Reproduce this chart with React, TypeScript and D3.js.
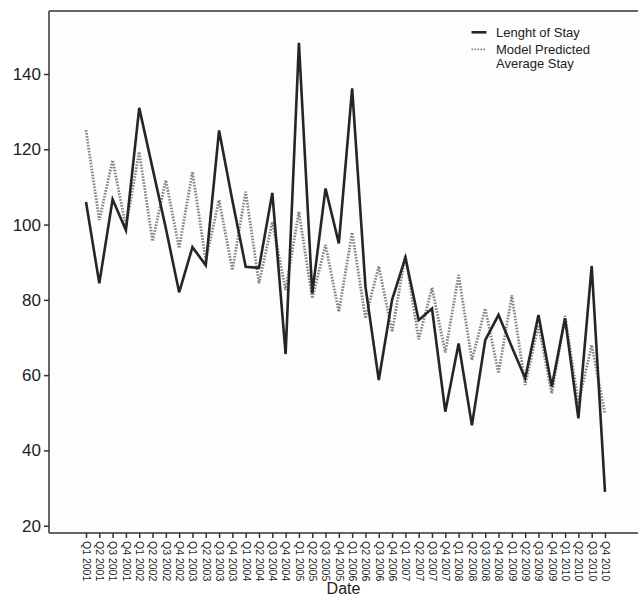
import React, { useEffect, useRef } from "react";
import * as d3 from "d3";

const quarters: string[] = [];
const years = [2001, 2002, 2003, 2004, 2005, 2006, 2007, 2008, 2009, 2010];
years.forEach((y) => ["Q1", "Q2", "Q3", "Q4"].forEach((q) => quarters.push(`${q} ${y}`)));

const lengthOfStay = [
  106, 84.4, 106.7, 98.5, 131, 115, 99, 82, 94, 89.2,
  125, 106.4, 88.8, 88.5, 108.4, 65.6, 148.3, 81.7, 109.6, 95,
  136.2, 83.5, 58.7, 80, 91.2, 74.6, 77.7, 50.3, 68.4, 46.7,
  69.3, 76, 67.5, 59.2, 76, 57, 75.1, 48.5, 89, 29,
];

const predicted = [
  125.1, 101.2, 117.1, 99.4, 119.3, 95.6, 111.8, 93.7, 114, 90.5,
  106.5, 87.9, 108.7, 84.4, 100.7, 82.6, 103.4, 80.4, 94.6, 76.8,
  97.9, 75.1, 88.9, 71.5, 91.9, 69.5, 83.2, 66, 86.6, 64,
  77.7, 60.5, 81.2, 57.4, 73.3, 55.1, 75.7, 52.5, 68, 49.7,
];

const yTicks = [20, 40, 60, 80, 100, 120, 140];
const seriesNames = ["Lenght of Stay", "Model Predicted", "Average Stay"];

const W = 638;
const H = 599;
const FONT = "'Liberation Sans', Arial, Helvetica, sans-serif";

export default function App() {
  const xAxisRef = useRef<SVGGElement>(null);
  const yAxisRef = useRef<SVGGElement>(null);

  const plotLeft = 49;
  const plotRight = 638;
  const plotTop = 11;
  const plotBottom = 533;

  const y = d3.scaleLinear().domain([18.06, 156.74]).range([plotBottom, plotTop]);
  const x = d3.scalePoint<string>().domain(quarters).range([86, 605]).padding(0);

  const lineGen = d3
    .line<number>()
    .x((_, i) => x(quarters[i]) as number)
    .y((d) => y(d));

  useEffect(() => {
    if (yAxisRef.current) {
      const g = d3.select(yAxisRef.current);
      g.call(d3.axisLeft(y).tickValues(yTicks).tickSize(5).tickPadding(3) as any);
      g.select(".domain").remove();
      g.selectAll(".tick line").attr("stroke", "#333").attr("stroke-width", 1.5);
      g.selectAll(".tick text")
        .attr("fill", "#222")
        .style("font-family", FONT)
        .style("font-size", "17px");
    }
    if (xAxisRef.current) {
      const g = d3.select(xAxisRef.current);
      g.call(d3.axisBottom(x).tickSize(5) as any);
      g.select(".domain").remove();
      g.selectAll(".tick line").attr("stroke", "#333").attr("stroke-width", 1.5);
      g.selectAll(".tick text")
        .attr("fill", "#222")
        .attr("transform", "rotate(90)")
        .attr("x", 8)
        .attr("y", 0)
        .attr("dy", "0.35em")
        .attr("text-anchor", "start")
        .style("font-family", FONT)
        .style("font-size", "10.5px");
    }
  }, []);

  return (
    <svg
      width={W}
      height={H}
      style={{ position: "absolute", left: 0, top: 0, background: "#fff" }}
    >
      <rect x={plotLeft} y={plotTop} width={plotRight - plotLeft} height={plotBottom - plotTop} fill="#fdfdfd" />
      <path
        d={lineGen(predicted) || ""}
        fill="none"
        stroke="#858585"
        strokeWidth={2.8}
        strokeDasharray="1.6,1.4"
      />
      <path
        d={lineGen(lengthOfStay) || ""}
        fill="none"
        stroke="#252525"
        strokeWidth={2.6}
        strokeLinejoin="miter"
      />
      <line x1={plotLeft} x2={plotRight} y1={plotTop} y2={plotTop} stroke="#333" strokeWidth={1.5} />
      <line x1={plotLeft} x2={plotLeft} y1={plotTop} y2={plotBottom} stroke="#333" strokeWidth={1.5} />
      <line x1={plotLeft} x2={plotRight} y1={plotBottom} y2={plotBottom} stroke="#333" strokeWidth={1.5} />
      <g ref={yAxisRef} transform={`translate(${plotLeft},0)`} />
      <g ref={xAxisRef} transform={`translate(0,${plotBottom})`} />
      <text
        x={(plotLeft + plotRight) / 2}
        y={594}
        textAnchor="middle"
        fill="#222"
        style={{ fontFamily: FONT, fontSize: "16px" }}
      >
        Date
      </text>
      <g style={{ fontFamily: FONT, fontSize: "13px" }} fill="#222">
        <line x1={471.5} x2={486.5} y1={32.3} y2={32.3} stroke="#252525" strokeWidth={2.6} />
        <text x={496} y={32.3} dy="0.35em">{seriesNames[0]}</text>
        <line x1={471.5} x2={486.5} y1={49.3} y2={49.3} stroke="#858585" strokeWidth={1.8} strokeDasharray="1.6,1.4" />
        <text x={496} y={49.3} dy="0.35em">{seriesNames[1]}</text>
        <text x={496} y={63.5} dy="0.35em">{seriesNames[2]}</text>
      </g>
    </svg>
  );
}
